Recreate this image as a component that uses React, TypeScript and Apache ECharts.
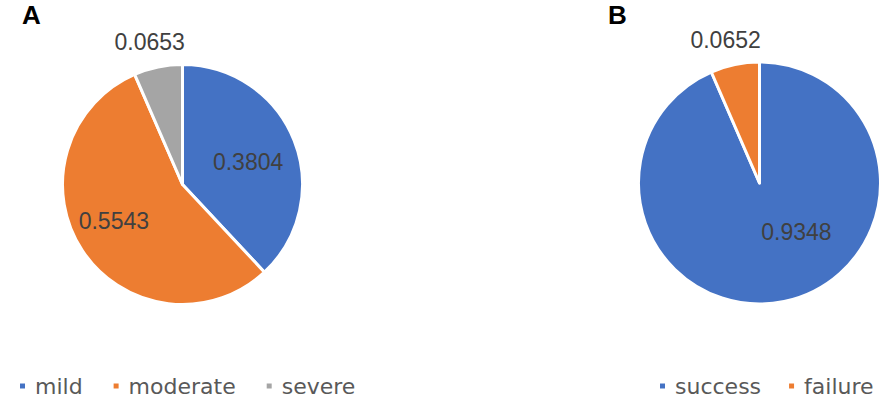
import React, { useEffect, useRef } from "react";
import * as echarts from "echarts";

const severityNames = ["mild", "moderate", "severe"];
const severityValues = [0.3804, 0.5543, 0.0653];
const outcomeNames = ["success", "failure"];
const outcomeValues = [0.9348, 0.0652];

const BLUE = "#4472C4";
const ORANGE = "#ED7D31";
const GRAY = "#A5A5A5";

// label nudges relative to the library's "inside" label position
const severityLabelOffsets = [[7, 1], [-16, 2], [-20, -81]];
const outcomeLabelOffsets = [[24, -13], [-21, -81]];

const labelStyle = {
  show: true,
  position: "inside" as const,
  fontFamily: "Liberation Sans, Arial, sans-serif",
  fontSize: 23,
  color: "#404040",
  formatter: (p: any) => String(p.value),
};

export default function App() {
  const ref = useRef<HTMLDivElement>(null);
  useEffect(() => {
    if (!ref.current) return;
    const chart = echarts.init(ref.current, undefined, { renderer: "svg" });
    const legendText = {
      fontFamily: "DejaVu Sans, sans-serif",
      fontSize: 22,
      color: "#595959",
      padding: [0, 0, 0, 4],
    };
    const titleText = {
      fontSize: 26,
      fontWeight: "bold",
      color: "#000",
      fontFamily: "Liberation Sans, Arial, sans-serif",
    };
    chart.setOption({
      animation: false,
      backgroundColor: "#ffffff",
      title: [
        { text: "A", left: 22, top: 2, padding: 0, textStyle: titleText },
        { text: "B", left: 608, top: 2, padding: 0, textStyle: titleText },
      ],
      legend: [
        {
          data: severityNames,
          left: 18,
          top: 375,
          padding: 0,
          icon: "rect",
          itemWidth: 7,
          itemHeight: 7,
          itemGap: 29,
          textStyle: legendText,
        },
        {
          data: outcomeNames,
          left: 658,
          top: 375,
          padding: 0,
          icon: "rect",
          itemWidth: 7,
          itemHeight: 7,
          itemGap: 26,
          textStyle: legendText,
        },
      ],
      series: [
        {
          type: "pie",
          center: [182.5, 184.5],
          radius: 120,
          startAngle: 90,
          clockwise: true,
          silent: true,
          itemStyle: { borderColor: "#ffffff", borderWidth: 3 },
          label: labelStyle,
          labelLine: { show: false },
          data: severityValues.map((v, i) => ({
            value: v,
            name: severityNames[i],
            itemStyle: { color: [BLUE, ORANGE, GRAY][i] },
            label: { offset: severityLabelOffsets[i] },
          })),
        },
        {
          type: "pie",
          center: [759.5, 183],
          radius: 121,
          startAngle: 90,
          clockwise: true,
          silent: true,
          itemStyle: { borderColor: "#ffffff", borderWidth: 3 },
          label: labelStyle,
          labelLine: { show: false },
          data: outcomeValues.map((v, i) => ({
            value: v,
            name: outcomeNames[i],
            itemStyle: { color: [BLUE, ORANGE][i] },
            label: { offset: outcomeLabelOffsets[i] },
          })),
        },
      ],
    });
    return () => chart.dispose();
  }, []);
  return (
    <div
      ref={ref}
      style={{ position: "fixed", left: 0, top: 0, width: 886, height: 410 }}
    />
  );
}
